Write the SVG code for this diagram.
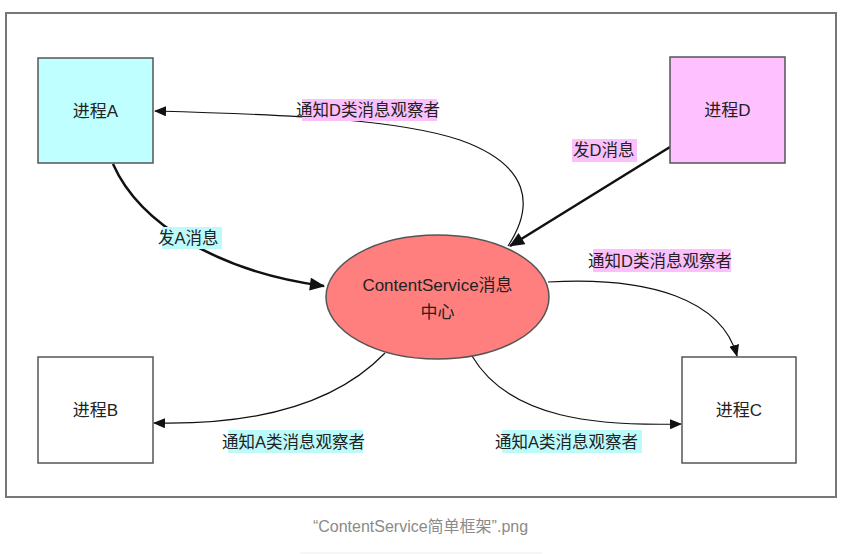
<svg xmlns="http://www.w3.org/2000/svg" width="863" height="554" viewBox="0 0 863 554">
<defs>
<style>
.node{stroke:#555;stroke-width:1.5}
.t{font-family:"Liberation Sans","Noto Sans CJK SC",sans-serif;font-size:17px;fill:#222;text-anchor:middle}
.lbl{font-family:"Liberation Sans","Noto Sans CJK SC",sans-serif;font-size:16.5px;fill:#222}
.edge{fill:none;stroke:#111;stroke-width:1.2}
.thick{fill:none;stroke:#111;stroke-width:2.5}
.hc{fill:#bdfbfb}
.hp{fill:#fbc0fb}
</style>
<marker id="ah" viewBox="0 0 12 10" refX="11" refY="5" markerWidth="12" markerHeight="10" markerUnits="userSpaceOnUse" orient="auto">
<path d="M0,0 L12,5 L0,10 Z" fill="#111"/>
</marker>
<marker id="ahb" viewBox="0 0 14 12" refX="13" refY="6" markerWidth="16" markerHeight="13" markerUnits="userSpaceOnUse" orient="auto">
<path d="M0,0 L14,6 L0,12 Z" fill="#111"/>
</marker>
</defs>
<rect x="0" y="0" width="863" height="554" fill="#fff"/>
<rect id="frame" x="6" y="13" width="830" height="484" fill="#fff" stroke="#777" stroke-width="2"/>

<g id="connectors">
<path class="thick" d="M113,164 C140,225 220,272 324,286" marker-end="url(#ahb)"/>
<path class="thick" d="M670,147 L510,246" marker-end="url(#ahb)"/>
<path class="edge" d="M508,246 C535,205 530,165 460,140 C400,120 300,115 155,111" marker-end="url(#ah)"/>
<path class="edge" d="M548,282 C650,276 722,300 737,356" marker-end="url(#ah)"/>
<path class="edge" d="M385,353 C330,410 240,425 154,423" marker-end="url(#ah)"/>
<path class="edge" d="M472,356 C510,420 600,426 681,424" marker-end="url(#ah)"/>
</g>

<g id="labels">
<g id="lbl-sendA"><rect class="hc" x="162" y="227" width="60" height="22"/><text class="lbl" x="158" y="244">发A消息</text></g>
<g id="lbl-sendD"><rect class="hp" x="572" y="139" width="65" height="23"/><text class="lbl" x="573" y="156">发D消息</text></g>
<g id="lbl-notifyD-A"><rect class="hp" x="302" y="99" width="135" height="22"/><text class="lbl" x="296" y="116">通知D类消息观察者</text></g>
<g id="lbl-notifyD-C"><rect class="hp" x="593" y="249" width="138" height="23"/><text class="lbl" x="588" y="267">通知D类消息观察者</text></g>
<g id="lbl-notifyA-B"><rect class="hc" x="228" y="430" width="135" height="23"/><text class="lbl" x="222" y="448">通知A类消息观察者</text></g>
<g id="lbl-notifyA-C"><rect class="hc" x="502" y="430" width="140" height="23"/><text class="lbl" x="495" y="448">通知A类消息观察者</text></g>
</g>

<g id="nodeA"><rect class="node" x="38" y="58" width="115" height="105" fill="#bfffff"/><text class="t" x="95.5" y="117">进程A</text></g>
<g id="nodeD"><rect class="node" x="670" y="57" width="115" height="106" fill="#ffc0ff"/><text class="t" x="727.5" y="116">进程D</text></g>
<g id="nodeB"><rect class="node" x="38" y="357" width="115" height="106" fill="#fff"/><text class="t" x="95.5" y="416">进程B</text></g>
<g id="nodeC"><rect class="node" x="682" y="357" width="114" height="106" fill="#fff"/><text class="t" x="739" y="416">进程C</text></g>
<g id="center"><ellipse class="node" cx="437.5" cy="297" rx="111.5" ry="62" fill="#ff7f7f"/><text class="t" x="437.5" y="291">ContentService消息</text><text class="t" x="437.5" y="318">中心</text></g>

<text x="420.5" y="532" font-family="Liberation Sans,'Noto Sans CJK SC',sans-serif" font-size="16" fill="#8a8a8a" text-anchor="middle">“ContentService简单框架”.png</text>
<line x1="300" y1="553" x2="542" y2="553" stroke="#eee" stroke-width="1"/>
</svg>
